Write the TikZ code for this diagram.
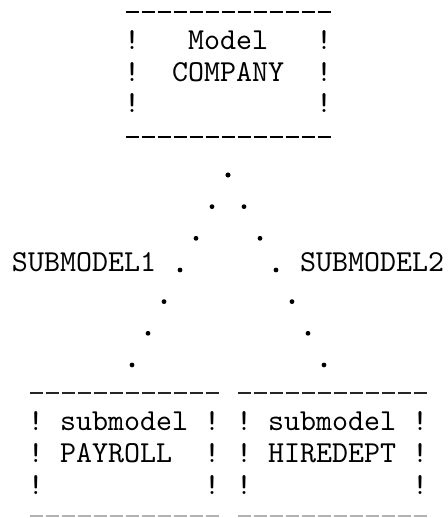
\documentclass[tikz,border=0pt]{standalone}
\usepackage{fontspec}
\newfontfamily\tw{lmmono10-regular.otf}
\begin{document}
\begin{tikzpicture}[x=1pt,y=-1pt,
  txt/.style={font={\tw\fontsize{30.48pt}{31.8pt}\selectfont}, inner sep=0pt, outer sep=0pt},
  frame/.style={draw=none, inner sep=0pt, outer sep=0pt},
  dashrow/.style={line width=2.4pt, dash pattern=on 13pt off 3pt},
  dashthin/.style={line width=1.8pt, black!85, dash pattern=on 13pt off 3pt},
  dashfaint/.style={line width=2.6pt, black!30, dash pattern=on 13pt off 3pt},
  dotline/.style={line width=4.8pt, line cap=round, dash pattern=on 0pt off 35.47pt}]
\useasboundingbox (0,0) rectangle (447,518);
% box frames
\node[frame, minimum width=208pt, minimum height=125pt] (company) at (228,74.5) {};
\node[frame, minimum width=192pt, minimum height=123pt] (payroll) at (124,454.5) {};
\node[frame, minimum width=192pt, minimum height=123pt] (hiredept) at (332,454.5) {};
\draw[dashrow] ([xshift=1.5pt]company.north west) -- ([xshift=-1.5pt]company.north east);
\draw[dashrow] ([xshift=1.5pt]company.south west) -- ([xshift=-1.5pt]company.south east);
\draw[dashthin] ([xshift=1.5pt]payroll.north west) -- ([xshift=-1.5pt]payroll.north east);
\draw[dashthin] ([xshift=1.5pt]hiredept.north west) -- ([xshift=-1.5pt]hiredept.north east);
\draw[dashfaint] ([xshift=1.5pt]payroll.south west) -- ([xshift=-1.5pt]payroll.south east);
\draw[dashfaint] ([xshift=1.5pt]hiredept.south west) -- ([xshift=-1.5pt]hiredept.south east);
% side bars
\foreach \r/\b in {1/49.3,2/81.1,3/112.9}
  \foreach \c in {6,18}
    \node[txt,anchor=base] (bang-\c-\r) at ({36+16*\c},\b) {!};
\foreach \r/\b in {13/430.9,14/462.7,15/494.5}
  \foreach \c in {0,11,13,24}
    \node[txt,anchor=base] (bang-\c-\r) at ({36+16*\c},\b) {!};
% texts
\node[txt,anchor=base west] (companyA) at (188,49.3) {Model};
\node[txt,anchor=base west] (companyB) at (172,81.1) {COMPANY};
\node[txt,anchor=base west] (subA) at (12,271.9) {SUBMODEL1};
\node[txt,anchor=base west] (subB) at (300,271.9) {SUBMODEL2};
\node[txt,anchor=base west] (payrollA) at (60,430.9) {submodel};
\node[txt,anchor=base west] (payrollB) at (60,462.7) {PAYROLL};
\node[txt,anchor=base west] (hireA) at (268,430.9) {submodel};
\node[txt,anchor=base west] (hireB) at (268,462.7) {HIREDEPT};
% dotted connectors
\coordinate (apex) at (228,175);
\coordinate (footL) at (132,365);
\coordinate (footR) at (324,365);
\draw[dotline] (apex) -- (footL);
\draw[dotline] (apex) -- (footR);
\end{tikzpicture}
\end{document}
